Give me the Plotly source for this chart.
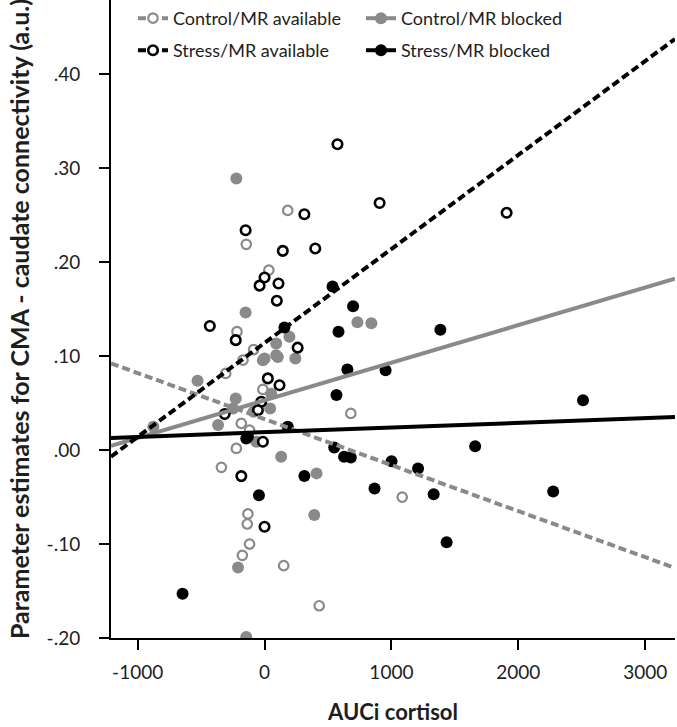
import plotly.graph_objects as go

# ---------------- data ----------------
x_tick_vals = [-1000, 0, 1000, 2000, 3000]
x_tick_text = ["-1000", "0", "1000", "2000", "3000"]
y_tick_vals = [-0.2, -0.1, 0.0, 0.1, 0.2, 0.3, 0.4]
y_tick_text = ["-.20", "-.10", ".00", ".10", ".20", ".30", ".40"]

group_names = ["Control/MR available", "Control/MR blocked",
               "Stress/MR available", "Stress/MR blocked"]

# Control / MR available (grey open circles)
ca_x = [183, -144, 34, -217, -86, -170, -306, -13, -183, -118, -222, -340,
        680, 1085, -131, -136, -118, -175, 151, 431]
ca_y = [0.255, 0.219, 0.1915, 0.126, 0.107, 0.0957, 0.0816, 0.0646, 0.0284,
        0.0213, 0.0018, -0.0184, 0.039, -0.050, -0.068, -0.0787, -0.100,
        -0.112, -0.123, -0.1657]

# Control / MR blocked (grey filled circles)
cb_x = [-222, -149, 196, 732, 842, 92, 92, -13, 243, 0, 105, -528, 52, -227,
        44, -86, -248, -366, -876, -65, 131, 410, 392, -209, -144]
cb_y = [0.289, 0.1465, 0.1205, 0.136, 0.135, 0.1135, 0.101, 0.0957, 0.0975,
        0.0975, 0.099, 0.0737, 0.060, 0.055, 0.0443, 0.0408, 0.0443, 0.0266,
        0.0248, 0.0089, -0.0071, -0.0248, -0.069, -0.125, -0.199]

# Stress / MR available (black open circles)
sa_x = [-149, 314, 575, 907, 1908, 144, 400, 0, -39, 110, 97, -431, -227, 261,
        26, 118, -26, -52, -314, -13, -183, 0]
sa_y = [0.234, 0.251, 0.3255, 0.263, 0.2525, 0.212, 0.2145, 0.1837, 0.175,
        0.1773, 0.159, 0.132, 0.117, 0.109, 0.0763, 0.069, 0.0514, 0.0425,
        0.0383, 0.0089, -0.0277, -0.0816]

# Stress / MR blocked (black filled circles)
sb_x = [536, 698, 583, 157, 1386, 653, 954, 567, 2510, 183, -144, -131, 549,
        627, 680, 1660, 1001, 1210, 314, 867, -44, 1333, 2275, 1435, -646]
sb_y = [0.174, 0.153, 0.126, 0.1305, 0.128, 0.0858, 0.085, 0.0585, 0.053,
        0.0248, 0.0124, 0.0142, 0.0028, -0.0071, -0.008, 0.004, -0.012,
        -0.0195, -0.0277, -0.041, -0.048, -0.047, -0.044, -0.098, -0.153]

# regression lines: value at x=0 and slope
fit_intercepts = [0.033, 0.053, 0.114, 0.019]
fit_slopes = [-4.9e-5, 4.0e-5, 1.0e-4, 5.0e-6]

x_range = [-1210, 3235]
y_range = [-0.2, 0.479]

# ---------------- styling ----------------
GREY = "#8a8a8a"
BLACK = "#000000"
TEXT = "#1e1e1e"
FONT = "Lato"

point_sets = [(ca_x, ca_y), (cb_x, cb_y), (sa_x, sa_y), (sb_x, sb_y)]
colors = [GREY, GREY, BLACK, BLACK]
filled = [False, True, False, True]
dashes = ["8px,4px", "solid", "8px,4px", "solid"]
legend_ids = ["legend", "legend", "legend2", "legend2"]


def marker_style(i):
    if filled[i]:
        return dict(size=12, color=colors[i], line=dict(width=0))
    return dict(size=9.5, color="white",
                line=dict(width=2.6 if colors[i] == BLACK else 2.2, color=colors[i]))


fig = go.Figure()

# points
for i, (xs, ys) in enumerate(point_sets):
    fig.add_trace(go.Scatter(x=xs, y=ys, mode="markers", marker=marker_style(i),
                             showlegend=False, name=group_names[i]))

# regression lines
for i in range(4):
    ly = [fit_intercepts[i] + fit_slopes[i] * xv for xv in x_range]
    fig.add_trace(go.Scatter(x=x_range, y=ly, mode="lines",
                             line=dict(color=colors[i], width=4, dash=dashes[i]),
                             showlegend=False, hoverinfo="skip"))

# legend entries
for i in range(4):
    fig.add_trace(go.Scatter(x=[None], y=[None], mode="lines+markers",
                             marker=marker_style(i),
                             line=dict(color=colors[i], width=4, dash=dashes[i]),
                             name=group_names[i], showlegend=True,
                             legend=legend_ids[i]))

legend_common = dict(orientation="h", xanchor="left", yanchor="top",
                     entrywidth=183, entrywidthmode="pixels",
                     bgcolor="rgba(0,0,0,0)",
                     font=dict(family=FONT, size=18, color=TEXT))

fig.update_layout(
    width=677, height=727,
    margin=dict(l=111, r=2, t=0, b=89),
    paper_bgcolor="white", plot_bgcolor="white",
    font=dict(family=FONT, size=18, color=TEXT),
    showlegend=True,
    legend=dict(x=0.039, y=1.0, **legend_common),
    legend2=dict(x=0.039, y=0.9498, **legend_common),
    xaxis=dict(range=x_range, tickvals=x_tick_vals, ticktext=x_tick_text,
               ticks="outside", ticklen=10, tickwidth=2, tickcolor=BLACK,
               showline=True, linecolor=BLACK, linewidth=2, showgrid=False,
               zeroline=False, automargin=False, ticklabelstandoff=6,
               tickfont=dict(family=FONT, size=19, color=TEXT),
               title=dict(text="<b>AUCi cortisol</b>", standoff=23,
                          font=dict(family=FONT, size=22, color=TEXT))),
    yaxis=dict(range=y_range, tickvals=y_tick_vals, ticktext=y_tick_text,
               ticks="outside", ticklen=10, tickwidth=2, tickcolor=BLACK,
               showline=True, linecolor=BLACK, linewidth=2, showgrid=False,
               zeroline=False, automargin=False, ticklabelstandoff=15,
               tickfont=dict(family=FONT, size=19, color=TEXT),
               title=dict(text="<b>Parameter estimates for CMA - caudate connectivity (a.u.)</b>",
                          standoff=10,
                          font=dict(family=FONT, size=25, color=TEXT))),
)

fig.write_html("out.html",
               config={"displayModeBar": False},
               post_script="document.body.style.margin='0px';document.body.style.overflow='hidden';")
